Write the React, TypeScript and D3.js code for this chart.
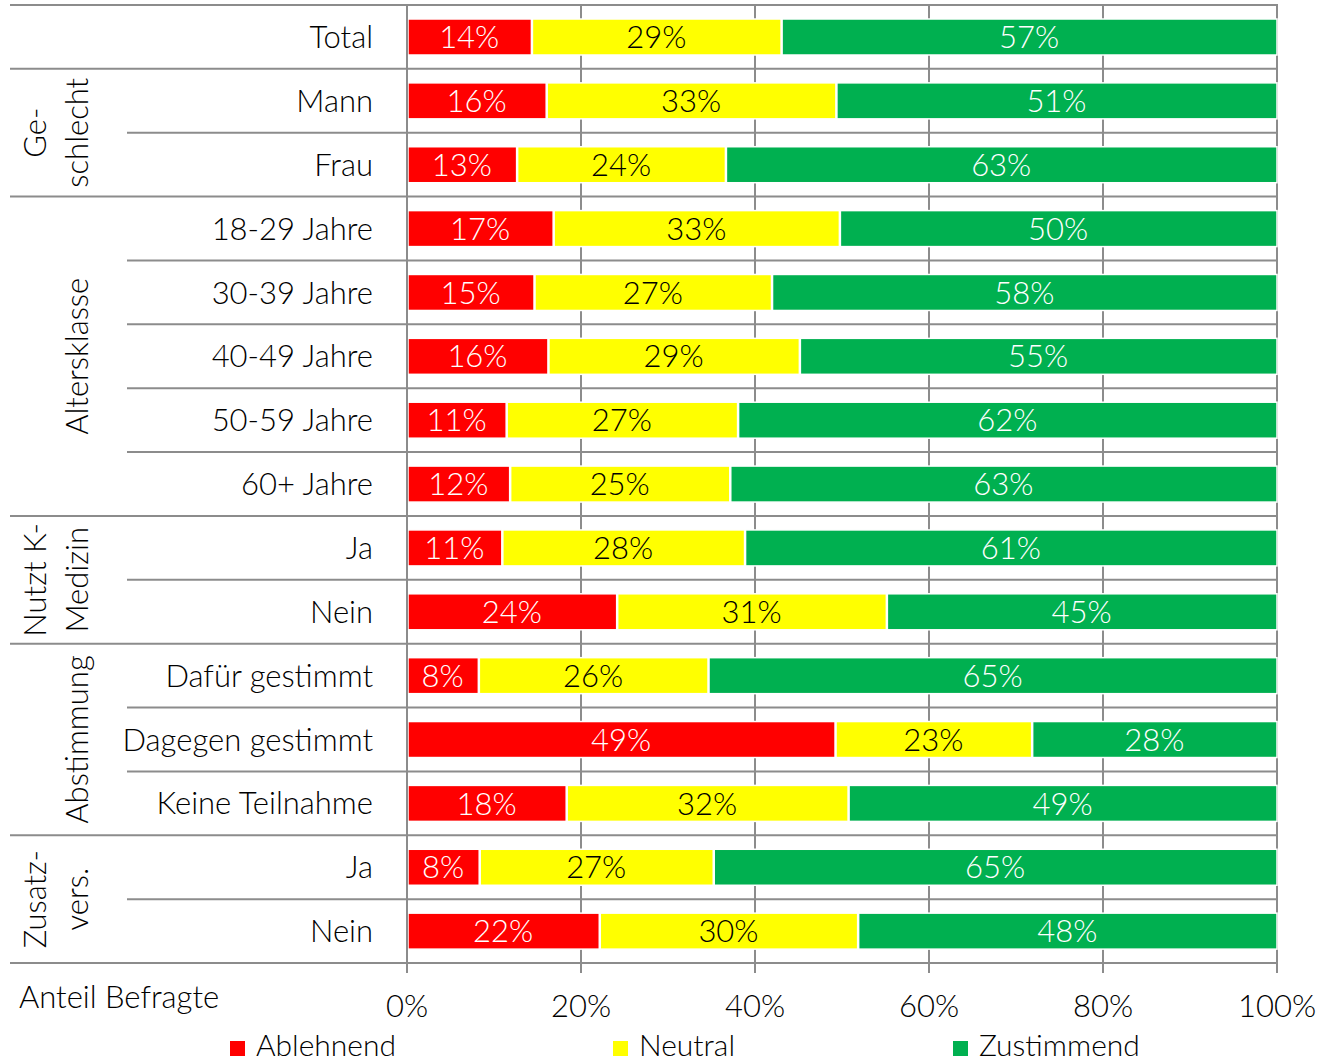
import React from "react";
import { scaleLinear, scaleBand, format } from "d3";

const categories = [
  "Total",
  "Mann",
  "Frau",
  "18-29 Jahre",
  "30-39 Jahre",
  "40-49 Jahre",
  "50-59 Jahre",
  "60+ Jahre",
  "Ja",
  "Nein",
  "Dafür gestimmt",
  "Dagegen gestimmt",
  "Keine Teilnahme",
  "Ja",
  "Nein",
];
const ablehnend = [14.3, 16.0, 12.6, 16.8, 14.6, 16.2, 11.4, 11.8, 10.9, 24.1, 8.2, 49.2, 18.3, 8.3, 22.1];
const neutral = [28.7, 33.3, 24.0, 32.9, 27.3, 28.9, 26.6, 25.3, 27.9, 31.0, 26.4, 22.6, 32.4, 26.9, 29.7];
const zustimmend = [57.0, 50.7, 63.4, 50.3, 58.1, 54.9, 62.0, 62.9, 61.2, 44.9, 65.4, 28.2, 49.3, 64.8, 48.2];

const groupSizes = [1, 2, 5, 2, 3, 2];
const groupLabels = [[], ["Ge-", "schlecht"], ["", "Altersklasse"], ["Nutzt K-", "Medizin"], ["", "Abstimmung"], ["Zusatz-", "vers."]];

const seriesNames = ["Ablehnend", "Neutral", "Zustimmend"];
const seriesColors = ["#ff0000", "#ffff00", "#00b050"];
const labelColors = ["#ffffff", "#000000", "#ffffff"];
const xTicks = [0, 20, 40, 60, 80, 100];

const W = 1320;
const H = 1063;
const FONT = "Lato, 'Open Sans', sans-serif";
const GRID = "#8c8c8c";

export default function App() {
  const x = scaleLinear().domain([0, 100]).range([407, 1277]);
  const y = scaleBand<number>()
    .domain(categories.map((_, i) => i))
    .range([5, 963]);
  const bw = y.bandwidth();
  const barOff = 14;
  const barH = 36;
  const pct = format(".0f");

  const series = [ablehnend, neutral, zustimmend];

  // row boundaries: group starts are full width, others start at x=127
  const groupStarts: number[] = [];
  let acc = 0;
  groupSizes.forEach((s) => {
    groupStarts.push(acc);
    acc += s;
  });
  const rowLines = categories.map((_, i) => ({
    y: y(i) as number,
    full: groupStarts.includes(i),
  }));

  return (
    <svg
      width={W}
      height={H}
      style={{ position: "absolute", left: 0, top: 0, background: "#fff" }}
      fontFamily={FONT}
      fontWeight={300}
    >
      {/* vertical grid */}
      {xTicks.map((t) => (
        <line key={"v" + t} x1={x(t)} x2={x(t)} y1={5} y2={973} stroke={GRID} strokeWidth={2} />
      ))}
      {/* horizontal row lines */}
      {rowLines.map((r, i) => (
        <line key={"h" + i} x1={r.full ? 10 : 127} x2={x(100) + 1} y1={r.y} y2={r.y} stroke={GRID} strokeWidth={2} />
      ))}
      <line x1={10} x2={x(100) + 1} y1={963} y2={963} stroke={GRID} strokeWidth={2} />

      {/* bars */}
      {categories.map((c, i) => {
        let start = 0;
        return (
          <g key={"b" + i}>
            {series.map((s, k) => {
              const v = s[i];
              const x0 = x(start);
              const x1 = x(start + v);
              start += v;
              return (
                <g key={k}>
                  <rect
                    x={x0 + 1}
                    y={(y(i) as number) + barOff}
                    width={x1 - x0 - 1}
                    height={barH}
                    fill={seriesColors[k]}
                    stroke="#fff"
                    strokeWidth={1.5}
                  />
                  <text
                    x={(x0 + x1) / 2}
                    y={(y(i) as number) + barOff + barH / 2}
                    dy="0.36em"
                    textAnchor="middle"
                    fontSize={31}
                    fill={labelColors[k]}
                  >
                    {pct(v)}%
                  </text>
                </g>
              );
            })}
          </g>
        );
      })}
      <line x1={407} x2={407} y1={5} y2={973} stroke={GRID} strokeWidth={2} />

      {/* category labels */}
      {categories.map((c, i) => (
        <text
          key={"c" + i}
          x={373}
          y={(y(i) as number) + bw / 2}
          dy="0.36em"
          textAnchor="end"
          fontSize={31}
          fill="#000"
        >
          {c}
        </text>
      ))}

      {/* group labels */}
      {groupLabels.map((lines, g) => {
        if (!lines.length) return null;
        const top = y(groupStarts[g]) as number;
        const bottom = top + groupSizes[g] * bw;
        const cy = (top + bottom) / 2;
        const xs = [46, 88];
        return lines.map((t, j) =>
          t ? (
            <text
              key={"g" + g + "-" + j}
              transform={`translate(${xs[j]},${cy}) rotate(-90)`}
              textAnchor="middle"
              fontSize={31}
              fill="#000"
            >
              {t}
            </text>
          ) : null
        );
      })}

      {/* x axis labels */}
      {xTicks.map((t) => (
        <text key={"t" + t} x={x(t)} y={1017} textAnchor="middle" fontSize={31} fill="#000">
          {t}%
        </text>
      ))}
      <text x={19} y={1008} fontSize={31} fill="#000">
        Anteil Befragte
      </text>

      {/* legend */}
      {seriesNames.map((n, k) => {
        const lx = [230, 613, 953][k];
        return (
          <g key={"l" + k}>
            <rect x={lx} y={1041} width={15} height={15} fill={seriesColors[k]} />
            <text x={lx + 26} y={1056} fontSize={30} fill="#000">
              {n}
            </text>
          </g>
        );
      })}
    </svg>
  );
}
